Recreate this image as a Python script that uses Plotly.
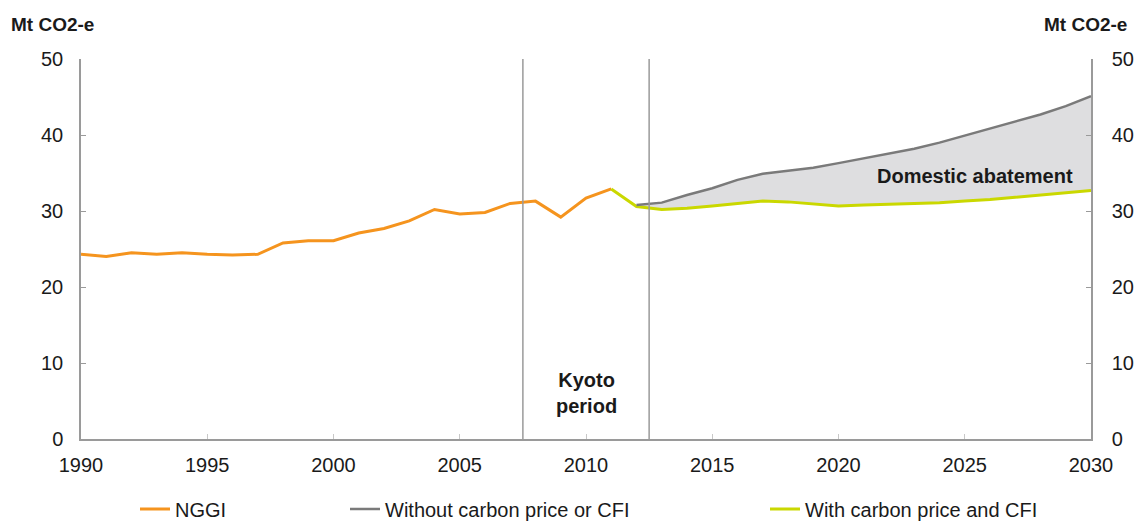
import plotly.graph_objects as go

# ---- data ----
years_hist = list(range(1990, 2012))
nggi = [24.3, 24.0, 24.5, 24.3, 24.5, 24.3, 24.2, 24.3, 25.8, 26.1, 26.1,
        27.1, 27.7, 28.7, 30.2, 29.6, 29.8, 31.0, 31.3, 29.2, 31.7, 32.9]

years_without = list(range(2012, 2031))
without_cp = [30.8, 31.1, 32.1, 33.0, 34.1, 34.9, 35.3, 35.7, 36.3, 36.9,
              37.5, 38.2, 39.0, 39.9, 40.8, 41.7, 42.7, 43.8, 45.1]

years_with = list(range(2011, 2031))
with_cp = [32.9, 30.6, 30.2, 30.35, 30.65, 31.0, 31.3, 31.2, 30.9, 30.65,
           30.8, 30.9, 31.0, 31.1, 31.3, 31.5, 31.8, 32.1, 32.4, 32.7]

kyoto_bounds = [2007.5, 2012.5]
x_ticks = [1990, 1995, 2000, 2005, 2010, 2015, 2020, 2025, 2030]
y_ticks = [0, 10, 20, 30, 40, 50]

ORANGE = "#F5941E"
GREY = "#7A7A7A"
LIME = "#CAD800"
FILL = "#DEDEE0"
AXIS = "#9A9A9A"
TXT = "#1A1A1A"
FONT = "Liberation Sans, Arial, sans-serif"

fig = go.Figure()

# fill base (with carbon price, projection years)
fig.add_trace(go.Scatter(x=years_with[1:], y=with_cp[1:], mode="lines",
                         line=dict(width=0, color=LIME), showlegend=False,
                         hoverinfo="skip"))
fig.add_trace(go.Scatter(x=years_without, y=without_cp, mode="lines",
                         line=dict(width=0, color=GREY), fill="tonexty",
                         fillcolor=FILL, showlegend=False, hoverinfo="skip"))

fig.add_trace(go.Scatter(x=years_hist, y=nggi, mode="lines", name="NGGI",
                         line=dict(color=ORANGE, width=3), legend="legend"))
fig.add_trace(go.Scatter(x=years_with, y=with_cp, mode="lines",
                         name="With carbon price and CFI",
                         line=dict(color=LIME, width=3), legend="legend3"))
fig.add_trace(go.Scatter(x=years_without, y=without_cp, mode="lines",
                         name="Without carbon price or CFI",
                         line=dict(color=GREY, width=2.5), legend="legend2",
                         yaxis="y2"))

for xb in kyoto_bounds:
    fig.add_shape(type="line", xref="x", yref="y", x0=xb, x1=xb, y0=0, y1=50,
                  line=dict(color=AXIS, width=1.5))

leg_y = 1 - 509 / 521
leg_common = dict(orientation="h", xref="container", yref="container",
                  yanchor="middle", xanchor="left", bgcolor="rgba(0,0,0,0)",
                  font=dict(family=FONT, size=20, color=TXT))

fig.update_layout(
    template="none",
    width=1141, height=521,
    margin=dict(l=81, r=50, t=59, b=82, autoexpand=False),
    paper_bgcolor="white", plot_bgcolor="white",
    font=dict(family=FONT, size=20, color=TXT),
    xaxis=dict(range=[1990, 2030], tickvals=x_ticks, showgrid=False,
               zeroline=False, showline=True, linecolor=AXIS, linewidth=1.5,
               ticks="inside", ticklen=5, tickcolor="#C8C8C8", automargin=False,
               ticklabelstandoff=7, tickfont=dict(size=20, color=TXT)),
    yaxis=dict(range=[0, 50], tickvals=y_ticks, showgrid=False,
               zeroline=False, showline=True, linecolor=AXIS, linewidth=1.5,
               ticks="inside", ticklen=5, tickcolor=AXIS, automargin=False,
               ticklabelstandoff=12, tickfont=dict(size=20, color=TXT)),
    yaxis2=dict(range=[0, 50], tickvals=y_ticks, overlaying="y", side="right",
                showgrid=False, zeroline=False, showline=True, linecolor=AXIS,
                linewidth=1.5, ticks="inside", ticklen=5, tickcolor=AXIS,
                automargin=False,
                ticklabelstandoff=15, tickfont=dict(size=20, color=TXT)),
    legend=dict(x=135 / 1141, y=leg_y, **leg_common),
    legend2=dict(x=345 / 1141, y=leg_y, **leg_common),
    legend3=dict(x=765 / 1141, y=leg_y, **leg_common),
    annotations=[
        dict(text="<b>Mt CO2-e</b>", xref="paper", yref="paper",
             x=(9 - 81) / 1009, y=(439 - 24) / 380, xanchor="left",
             yanchor="middle", showarrow=False,
             font=dict(family=FONT, size=19, color=TXT)),
        dict(text="<b>Mt CO2-e</b>", xref="paper", yref="paper",
             x=(1128 - 81) / 1009, y=(439 - 24) / 380, xanchor="right",
             yanchor="middle", showarrow=False,
             font=dict(family=FONT, size=19, color=TXT)),
        dict(text="<b>Kyoto<br>period</b>", xref="x", yref="y",
             x=(kyoto_bounds[0] + kyoto_bounds[1]) / 2, y=6.0,
             showarrow=False, align="center",
             font=dict(family=FONT, size=20, color=TXT)),
        dict(text="<b>Domestic abatement</b>", xref="x", yref="y",
             x=2025.4, y=34.6, showarrow=False,
             font=dict(family=FONT, size=20, color=TXT)),
    ],
)

fig.write_html("out.html",
               config={"displayModeBar": False},
               post_script="document.body.style.margin='0';"
                           "document.body.style.overflow='hidden';")
